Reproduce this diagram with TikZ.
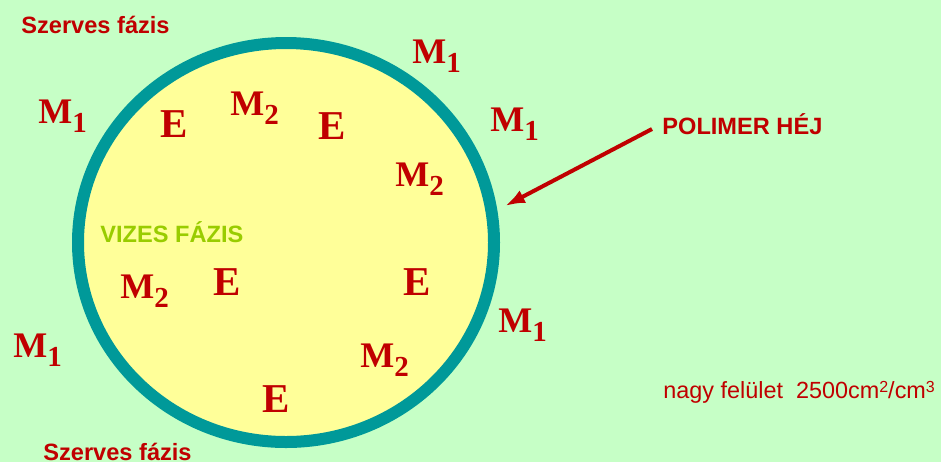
\documentclass[tikz,border=0pt]{standalone}
\usepackage{fontspec}
\setmainfont{Liberation Serif}
\setsansfont{Liberation Sans}
\usetikzlibrary{arrows.meta}
\definecolor{hatter}{RGB}{198,255,198}
\definecolor{sarga}{RGB}{255,255,153}
\definecolor{heja}{RGB}{0,153,153}
\definecolor{piros}{RGB}{192,0,0}
\definecolor{zold}{RGB}{153,204,0}
\newcommand{\Mjel}[1]{M\raisebox{-4.8pt}{\fontsize{14.5}{15}\selectfont #1}}
\newcommand{\kitevo}[1]{\raisebox{3pt}{\fontsize{8}{9}\selectfont #1}}

\begin{document}
\begin{tikzpicture}[x=0.5pt,y=-0.5pt,
    every node/.style={inner sep=0pt,anchor=base west},
    felirat/.style={font=\sffamily\bfseries\fontsize{11.8}{14}\selectfont,text=piros},
    betu/.style={font=\rmfamily\bfseries\fontsize{18}{20}\selectfont,text=piros},
    enzim/.style={font=\rmfamily\bfseries\fontsize{20.5}{22}\selectfont,text=piros}]
            \useasboundingbox (0,0) rectangle (941,462);
            \fill[hatter] (0,0) rectangle (941,462);
            \filldraw[fill=sarga,draw=heja,line width=6pt] (286,242.5) ellipse [x radius=208, y radius=199.5];

            \node[felirat] (SZa) at (21,33) {Szerves fázis};
            \node[felirat] (SZb) at (43,460) {Szerves fázis};
            \node[felirat,text=zold] (V) at (100,242) {VIZES FÁZIS};
            \node[felirat] (P) at (662,134) {POLIMER HÉJ};
            \node[font=\sffamily\fontsize{11.7}{13}\selectfont,text=piros] (N) at (663,398)
                {nagy felület\ \ 2500cm\kitevo{2}/cm\kitevo{3}};

            \node[betu] (Ma) at (38,123) {\Mjel{1}};
            \node[betu] (Mb) at (412,63) {\Mjel{1}};
            \node[betu] (Mc) at (490,131) {\Mjel{1}};
            \node[betu] (Md) at (498,332) {\Mjel{1}};
            \node[betu] (Me) at (13,357) {\Mjel{1}};

            \node[betu] (MMa) at (230,115) {\Mjel{2}};
            \node[betu] (MMb) at (395,186) {\Mjel{2}};
            \node[betu] (MMc) at (120,298) {\Mjel{2}};
            \node[betu] (MMd) at (360,367) {\Mjel{2}};

            \node[enzim] (Ea) at (160,137) {E};
            \node[enzim] (Eb) at (318,139) {E};
            \node[enzim] (Ec) at (213,295) {E};
            \node[enzim] (Ed) at (403,295) {E};
            \node[enzim] (Ee) at (262,412) {E};

            \coordinate (H) at (505,206);
            \draw[piros,line width=2pt,-{Latex[length=10pt,width=7pt]}]
              ([shift={(-10,-5)}]P.base west) -- (H);
            \end{tikzpicture}
\end{document}
